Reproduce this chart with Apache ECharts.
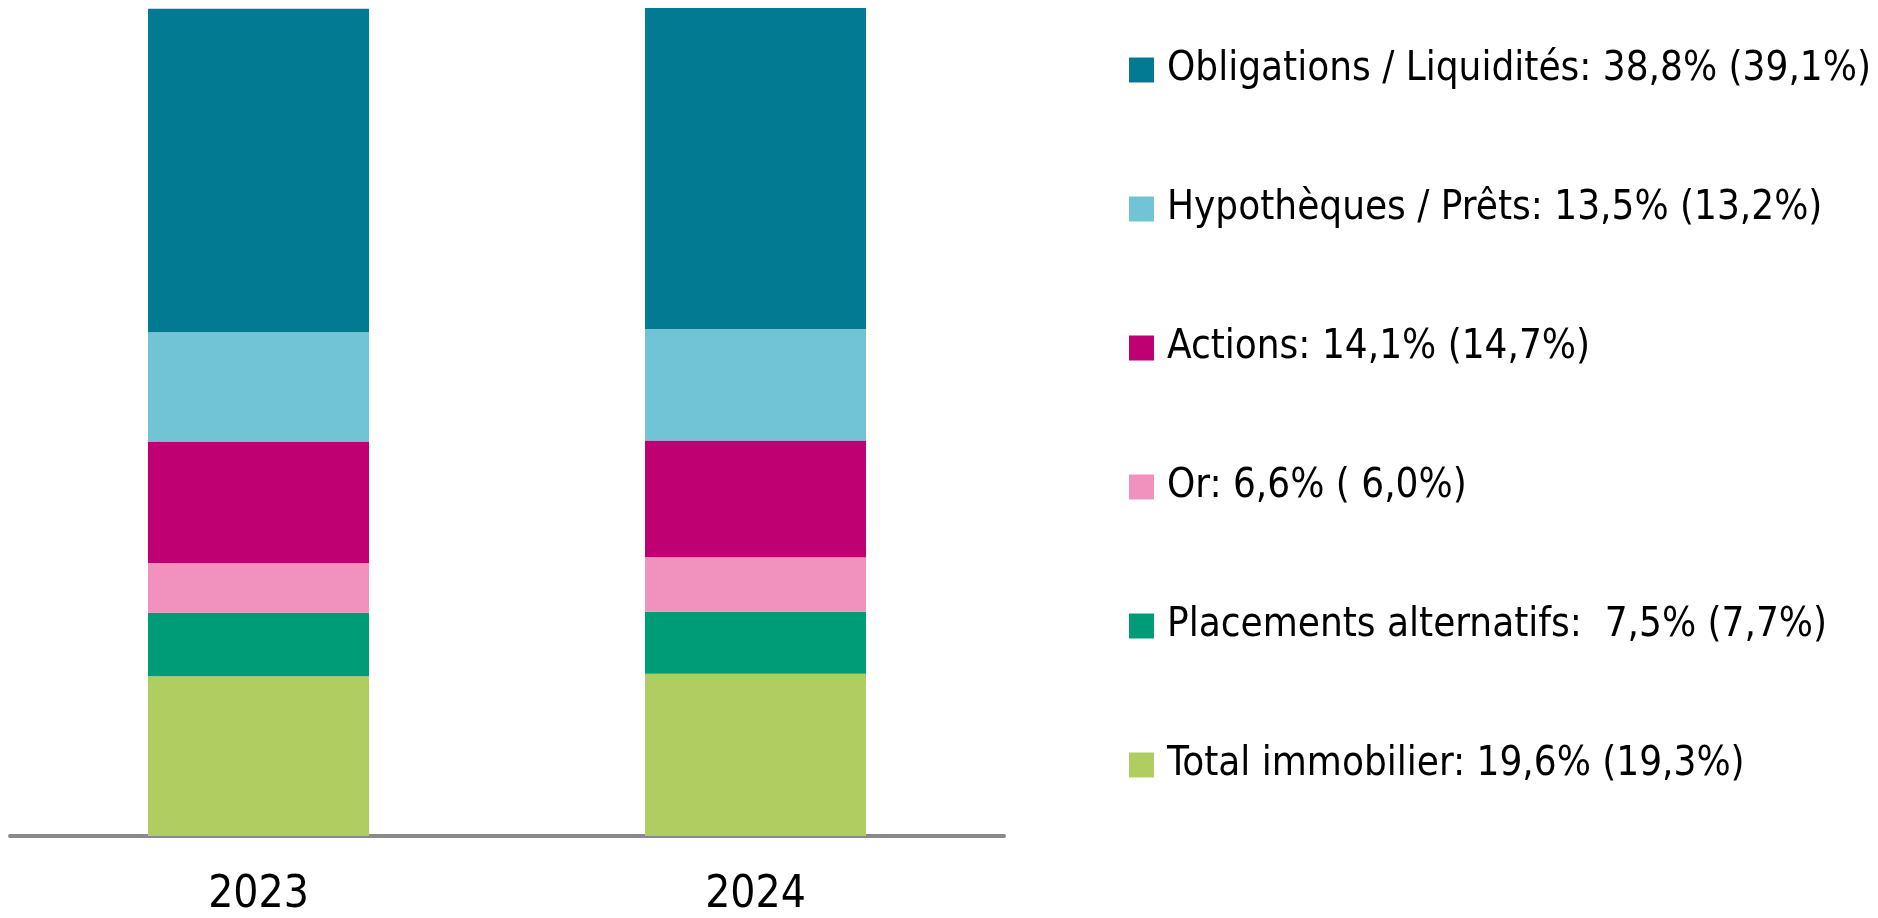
<!DOCTYPE html>
<html>
<head>
<meta charset="utf-8">
<script src="https://cdn.jsdelivr.net/npm/echarts@6/dist/echarts.min.js"></script>
<style>
  html, body { margin: 0; padding: 0; background: #fff; }
  #main { width: 1878px; height: 918px; }
</style>
</head>
<body>
<div id="main"></div>
<script>
// années
const years = ['2023', '2024']

// séries, du bas vers le haut de la pile
const seriesNames = ['Total immobilier', 'Placements alternatifs', 'Or', 'Actions', 'Hypothèques / Prêts', 'Obligations / Liquidités']
const values2023 = [19.3, 7.7, 6.0, 14.7, 13.2, 39.1]
const values2024 = [19.6, 7.5, 6.6, 14.1, 13.5, 38.8]
const colors = ['#b0cd62', '#009b77', '#f092bd', '#be0073', '#70c4d6', '#027a91']

// texte de la légende (tel quel)
const legendTexts = {
  'Obligations / Liquidités': 'Obligations / Liquidités: 38,8% (39,1%)',
  'Hypothèques / Prêts': 'Hypothèques / Prêts: 13,5% (13,2%)',
  'Actions': 'Actions: 14,1% (14,7%)',
  'Or': 'Or: 6,6% ( 6,0%)',
  'Placements alternatifs': 'Placements alternatifs:  7,5% (7,7%)',
  'Total immobilier': 'Total immobilier: 19,6% (19,3%)'
}

const font = '"Liberation Sans Narrow", "DejaVu Sans Condensed", "Liberation Sans", sans-serif'

let chart = echarts.init(document.getElementById('main'))

let series = seriesNames.map((name, i) => ({
  name: name,
  type: 'bar',
  stack: 'total',
  barWidth: 221,
  itemStyle: { color: colors[i] },
  data: [values2023[i], values2024[i]]
}))

let option = {
  animation: false,
  color: colors,
  grid: { left: 10, right: 874, top: 8, bottom: 80, containLabel: false },
  legend: {
    orient: 'vertical',
    left: 1129,
    top: 48,
    padding: 0,
    itemWidth: 25,
    itemHeight: 25,
    itemGap: 95,
    icon: 'rect',
    data: seriesNames.slice().reverse(),
    formatter: name => legendTexts[name],
    textStyle: { fontFamily: font, fontSize: 40, color: '#000', lineHeight: 44, padding: [0, 0, 0, 8] }
  },
  xAxis: {
    type: 'category',
    data: years,
    axisTick: { show: false },
    axisLine: { lineStyle: { color: '#8a8a8a', width: 4 } },
    axisLabel: { fontFamily: font, fontSize: 44, lineHeight: 44, color: '#000', margin: 38 }
  },
  yAxis: {
    type: 'value',
    min: 0,
    max: 100.1,
    show: false
  },
  series: series
}

chart.setOption(option)
</script>
</body>
</html>
